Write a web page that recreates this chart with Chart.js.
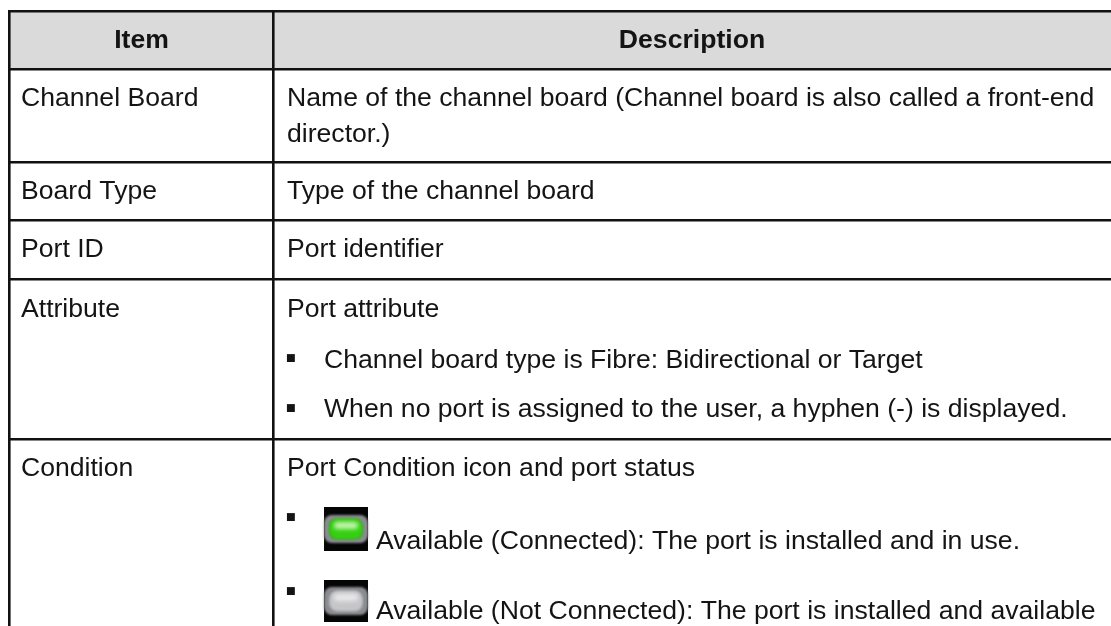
<!DOCTYPE html>
<html><head><meta charset="utf-8">
<style>html,body{margin:0;padding:0;background:#fff;overflow:hidden}#w{position:absolute;left:0;top:0;width:1111px;height:626px}</style>
<script src="https://cdn.jsdelivr.net/npm/chart.js@4/dist/chart.umd.min.js"></script>
</head><body><div id="w"><canvas id="c"></canvas></div>
<script>
const headers = ["Item", "Description"];
const items = ["Channel Board", "Board Type", "Port ID", "Attribute", "Condition"];
const descChannel = ["Name of the channel board (Channel board is also called a front-end", "director.)"];
const descBoard = ["Type of the channel board"];
const descPort = ["Port identifier"];
const descAttr = ["Port attribute"];
const attrBullets = ["Channel board type is Fibre: Bidirectional or Target", "When no port is assigned to the user, a hyphen (-) is displayed."];
const descCond = ["Port Condition icon and port status"];
const condBullets = ["Available (Connected): The port is installed and in use.", "Available (Not Connected): The port is installed and available"];

// layout
const colRules = [9, 273.7];
const rowRules = [11, 69, 162.4, 220.7, 279.4, 439.4];
const itemBase = [106, 199, 257, 317, 476];
const FONT = '"Liberation Sans", Arial, sans-serif';
const SIZE = 26.6;
const INK = '#141414';

function icon(ctx, x, y, size, h, core, glow, hi) {
  ctx.save();
  ctx.fillStyle = '#050505'; ctx.fillRect(x, y, size, h);
  ctx.filter = 'blur(1px)';
  const cy = y + h / 2;
  ctx.fillStyle = '#8a8c90';
  ctx.beginPath(); ctx.roundRect(x, cy - 14, size, 28, 8); ctx.fill();
  ctx.fillStyle = glow;
  ctx.beginPath(); ctx.roundRect(x + 5, cy - 10.5, size - 10, 21, 8); ctx.fill();
  ctx.fillStyle = core;
  ctx.beginPath(); ctx.roundRect(x + 6, cy - 9.5, size - 12, 19, 8); ctx.fill();
  ctx.filter = 'blur(2px)';
  ctx.fillStyle = hi;
  ctx.beginPath(); ctx.roundRect(x + 10, cy - 7, size - 20, 7, 3); ctx.fill();
  ctx.restore();
}

const tablePlugin = {
  id: 'table',
  beforeDraw(chart) {
    const {ctx, scales: {x, y}} = chart;
    ctx.save();
    ctx.fillStyle = '#fff'; ctx.fillRect(0, 0, 1111, 626);
    ctx.fillStyle = '#dadada';
    ctx.fillRect(x.getPixelForValue(colRules[0]), y.getPixelForValue(rowRules[0]), 1111, y.getPixelForValue(rowRules[1]) - y.getPixelForValue(rowRules[0]));
    ctx.restore();
  },
  afterDraw(chart) {
    const {ctx, scales: {x, y}} = chart;
    const T = (s, px, py) => ctx.fillText(s, x.getPixelForValue(px), y.getPixelForValue(py));
    ctx.save();
    ctx.textBaseline = 'alphabetic';
    ctx.fillStyle = INK;
    ctx.font = `bold ${SIZE}px ${FONT}`;
    ctx.textAlign = 'center';
    T(headers[0], 141.5, 48);
    T(headers[1], 692, 48);
    ctx.textAlign = 'left';
    ctx.font = `${SIZE}px ${FONT}`;
    items.forEach((s, i) => T(s, 21, itemBase[i]));
    const dx = 287;
    T(descChannel[0], dx, 106); T(descChannel[1], dx, 142);
    T(descBoard[0], dx, 199);
    T(descPort[0], dx, 257);
    T(descAttr[0], dx, 317);
    T(descCond[0], dx, 476);
    T(attrBullets[0], 324, 368);
    T(attrBullets[1], 324, 417);
    T(condBullets[0], 376, 548.5);
    T(condBullets[1], 376, 619);
    // bullets
    ctx.font = `32px ${FONT}`;
    T('▪', 285, 368); T('▪', 285, 418);
    T('▪', 285, 527); T('▪', 285, 601);
    ctx.restore();
    icon(ctx, 324, 507, 44, 44, '#35cf12', '#2cb80e', '#c4f5b0');
    icon(ctx, 324, 580, 44, 42, '#c6c6ca', '#aaaaae', '#e8e8ea');
  }
};

Chart.defaults.animation = false;
new Chart(document.getElementById('c'), {
  type: 'scatter',
  data: { datasets: [{ data: [], pointRadius: 0 }] },
  plugins: [tablePlugin],
  options: {
    responsive: true, maintainAspectRatio: false, animation: false,
    layout: { padding: { left: 8, top: 10, right: 0, bottom: 0 } },
    plugins: { legend: { display: false }, tooltip: { enabled: false } },
    scales: {
      x: { type: 'linear', min: 8, max: 1111, position: 'top',
        afterBuildTicks: a => { a.ticks = colRules.map(v => ({ value: v })); },
        grid: { color: '#111', lineWidth: 2.6, drawTicks: false }, border: { display: false }, ticks: { display: false } },
      y: { type: 'linear', min: 10, max: 626, reverse: true,
        afterBuildTicks: a => { a.ticks = rowRules.map(v => ({ value: v })); },
        grid: { color: '#111', lineWidth: 2.6, drawTicks: false }, border: { display: false }, ticks: { display: false } }
    }
  }
});
</script></body></html>
